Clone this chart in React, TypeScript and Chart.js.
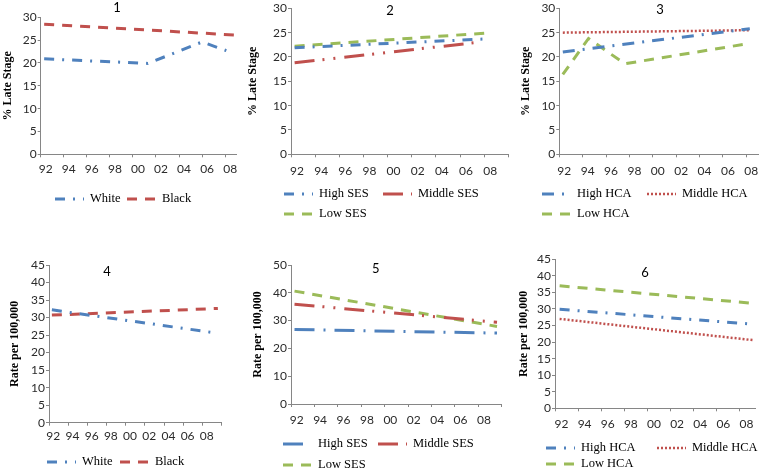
import React, { useEffect, useRef } from 'react';
import { Chart, registerables } from 'chart.js';

Chart.register(...registerables);

// ---------- data ----------
const XTICK_YEARS = [1992, 1994, 1996, 1998, 2000, 2002, 2004, 2006, 2008, 2010];
const XTICK_LABELS = ['92', '94', '96', '98', '00', '02', '04', '06', '08', ''];

// Panel 1: % late stage by race
const P1_WHITE_X = [1992.3, 2001.3, 2006.0, 2008.1];
const P1_WHITE_Y = [20.9, 19.9, 24.6, 22.7];
const P1_BLACK_X = [1992.3, 2009.0];
const P1_BLACK_Y = [28.5, 26.1];

// Panel 2: % late stage by SES
const P2_HIGH_X = [1992.3, 2008.1];
const P2_HIGH_Y = [21.9, 23.7];
const P2_MIDDLE_X = [1992.3, 2007.8];
const P2_MIDDLE_Y = [18.8, 23.1];
const P2_LOW_X = [1992.3, 2008.1];
const P2_LOW_Y = [22.2, 24.9];

// Panel 3: % late stage by HCA
const P3_HIGH_X = [1992.3, 1994.5, 2008.3];
const P3_HIGH_Y = [21.0, 21.7, 25.8];
const P3_MIDDLE_X = [1992.3, 2008.3];
const P3_MIDDLE_Y = [25.0, 25.5];
const P3_LOW_X = [1992.3, 1994.5, 1997.6, 2008.3];
const P3_LOW_Y = [16.4, 23.8, 18.6, 22.8];

// Panel 4: rate by race
const P4_WHITE_X = [1992.3, 2008.9];
const P4_WHITE_Y = [32.2, 25.8];
const P4_BLACK_X = [1992.3, 2009.6];
const P4_BLACK_Y = [30.7, 32.6];

// Panel 5: rate by SES
const P5_HIGH_X = [1992.3, 2009.6];
const P5_HIGH_Y = [26.8, 25.5];
const P5_MIDDLE_X = [1992.3, 2009.6];
const P5_MIDDLE_Y = [35.9, 29.4];
const P5_LOW_X = [1992.3, 2009.6];
const P5_LOW_Y = [40.6, 27.9];

// Panel 6: rate by HCA
const P6_HIGH_X = [1992.4, 2009.1];
const P6_HIGH_Y = [29.9, 25.4];
const P6_MIDDLE_X = [1992.4, 2009.1];
const P6_MIDDLE_Y = [27.0, 20.6];
const P6_LOW_X = [1992.4, 2009.1];
const P6_LOW_Y = [37.0, 31.7];

// ---------- styles ----------
const BLUE = '#4F81BD';
const RED = '#C0504D';
const GREEN = '#9BBB59';
const AXIS = '#868686';
const TICK_COLOR = '#2b2b2b';
const TICK_FONT = { family: 'Lato, "Open Sans", sans-serif', size: 12 };

const DASH_DOT = [10, 8, 2, 8];
const LONG_DASH_DOT = [20, 9, 2, 9];
const LONG_DASH_DOT_DOT = [20, 8, 2, 9, 2, 9];
const DASH = [10, 8];
const ROUND_DOT = [2, 2];

type Series = { label: string; xs: number[]; ys: number[]; color: string; dash: number[]; width: number };
type Panel = {
  title: string;
  titlePos: [number, number];
  yTitle: string;
  yMax: number;
  yStep: number;
  xMax: number;
  series: Series[];
  canvas: { x: number; y: number; w: number; h: number };
  plot: { l: number; t: number; r: number; b: number };
  yTitleX: number;
  labelOffset: number;
  xLabelPad: number;
  legend: [number, number][];
};

const PANELS: Panel[] = [
  {
    title: '1', titlePos: [117, 8], yTitle: '% Late Stage', yMax: 30, yStep: 5, xMax: 2009,
    series: [
      { label: 'White', xs: P1_WHITE_X, ys: P1_WHITE_Y, color: BLUE, dash: DASH_DOT, width: 3 },
      { label: 'Black', xs: P1_BLACK_X, ys: P1_BLACK_Y, color: RED, dash: DASH, width: 3 },
    ],
    canvas: { x: 0, y: 0, w: 250, h: 236 },
    plot: { l: 40.7, t: 17.3, r: 236.7, b: 154.3 },
    yTitleX: 7.5, labelOffset: 5, xLabelPad: 4.6,
    legend: [[55, 199], [127, 199]],
  },
  {
    title: '2', titlePos: [390, 10.7], yTitle: '% Late Stage', yMax: 30, yStep: 5, xMax: 2010,
    series: [
      { label: 'High SES', xs: P2_HIGH_X, ys: P2_HIGH_Y, color: BLUE, dash: DASH_DOT, width: 3 },
      { label: 'Middle SES', xs: P2_MIDDLE_X, ys: P2_MIDDLE_Y, color: RED, dash: LONG_DASH_DOT_DOT, width: 3 },
      { label: 'Low SES', xs: P2_LOW_X, ys: P2_LOW_Y, color: GREEN, dash: DASH, width: 3 },
    ],
    canvas: { x: 246, y: 0, w: 266, h: 236 },
    plot: { l: 291, t: 8.3, r: 508.3, b: 154.3 },
    yTitleX: 253.3, labelOffset: 6, xLabelPad: 6.3,
    legend: [[284, 194], [383, 194], [284, 214]],
  },
  {
    title: '3', titlePos: [660, 10], yTitle: '% Late Stage', yMax: 30, yStep: 5, xMax: 2009,
    series: [
      { label: 'High HCA', xs: P3_HIGH_X, ys: P3_HIGH_Y, color: BLUE, dash: [12, 8, 2, 8], width: 3 },
      { label: 'Middle HCA', xs: P3_MIDDLE_X, ys: P3_MIDDLE_Y, color: RED, dash: ROUND_DOT, width: 2.5 },
      { label: 'Low HCA', xs: P3_LOW_X, ys: P3_LOW_Y, color: GREEN, dash: DASH, width: 3 },
    ],
    canvas: { x: 512, y: 0, w: 254, h: 236 },
    plot: { l: 559.3, t: 8.3, r: 758, b: 154.3 },
    yTitleX: 525.8, labelOffset: 5, xLabelPad: 6.6,
    legend: [[542, 194], [647, 194], [542, 214]],
  },
  {
    title: '4', titlePos: [107, 271.7], yTitle: 'Rate per 100,000', yMax: 45, yStep: 5, xMax: 2010,
    series: [
      { label: 'White', xs: P4_WHITE_X, ys: P4_WHITE_Y, color: BLUE, dash: DASH_DOT, width: 3 },
      { label: 'Black', xs: P4_BLACK_X, ys: P4_BLACK_Y, color: RED, dash: DASH, width: 3 },
    ],
    canvas: { x: 0, y: 236, w: 250, h: 236 },
    plot: { l: 49, t: 265, r: 221.7, b: 422.7 },
    yTitleX: 15.3, labelOffset: 4.3, xLabelPad: 3.4,
    legend: [[47, 462], [120, 462]],
  },
  {
    title: '5', titlePos: [375.7, 269.3], yTitle: 'Rate per 100,000', yMax: 50, yStep: 10, xMax: 2010,
    series: [
      { label: 'High SES', xs: P5_HIGH_X, ys: P5_HIGH_Y, color: BLUE, dash: LONG_DASH_DOT, width: 3 },
      { label: 'Middle SES', xs: P5_MIDDLE_X, ys: P5_MIDDLE_Y, color: RED, dash: LONG_DASH_DOT_DOT, width: 3 },
      { label: 'Low SES', xs: P5_LOW_X, ys: P5_LOW_Y, color: GREEN, dash: DASH, width: 3 },
    ],
    canvas: { x: 248, y: 236, w: 264, h: 236 },
    plot: { l: 291, t: 265, r: 501.7, b: 404 },
    yTitleX: 258, labelOffset: 5.7, xLabelPad: 6,
    legend: [[283, 444], [378, 444], [283, 465]],
  },
  {
    title: '6', titlePos: [645, 272.7], yTitle: 'Rate per 100,000', yMax: 45, yStep: 5, xMax: 2009.3,
    series: [
      { label: 'High HCA', xs: P6_HIGH_X, ys: P6_HIGH_Y, color: BLUE, dash: DASH_DOT, width: 3 },
      { label: 'Middle HCA', xs: P6_MIDDLE_X, ys: P6_MIDDLE_Y, color: RED, dash: ROUND_DOT, width: 2.5 },
      { label: 'Low HCA', xs: P6_LOW_X, ys: P6_LOW_Y, color: GREEN, dash: DASH, width: 3 },
    ],
    canvas: { x: 512, y: 236, w: 254, h: 236 },
    plot: { l: 555, t: 259.3, r: 755, b: 408.3 },
    yTitleX: 523.8, labelOffset: 6.5, xLabelPad: 5.4,
    legend: [[546, 448], [657, 448], [546, 464]],
  },
];

const X_AXIS_H = 26;
const TITLE_HALF_LINE = 7.2; // 12px * 1.2 / 2
const LEGEND_SAMPLE = 29;
const LEGEND_TEXT_GAP = 35;

function makeDecor(p: Panel) {
  return {
    id: 'decor' + p.title,
    afterDraw(chart: any) {
      const ctx: CanvasRenderingContext2D = chart.ctx;
      const ox = p.canvas.x;
      const oy = p.canvas.y;
      ctx.save();
      ctx.font = '13px Lato, "Open Sans", sans-serif';
      ctx.fillStyle = '#000';
      ctx.textAlign = 'center';
      ctx.textBaseline = 'middle';
      ctx.fillText(p.title, p.titlePos[0] - ox, p.titlePos[1] - oy);
      p.series.forEach((s, i) => {
        const [lx, ly] = p.legend[i];
        ctx.beginPath();
        ctx.setLineDash(s.dash);
        ctx.lineDashOffset = 0;
        ctx.lineWidth = s.width;
        ctx.strokeStyle = s.color;
        ctx.lineCap = 'butt';
        ctx.moveTo(lx - ox, ly - oy);
        ctx.lineTo(lx - ox + LEGEND_SAMPLE, ly - oy);
        ctx.stroke();
        ctx.setLineDash([]);
        ctx.font = '12.5px "Liberation Serif", "Times New Roman", serif';
        ctx.textAlign = 'left';
        ctx.textBaseline = 'middle';
        ctx.fillStyle = '#000';
        ctx.fillText(s.label, lx - ox + LEGEND_TEXT_GAP, ly - oy);
      });
      ctx.restore();
    },
  };
}

function PanelChart({ p }: { p: Panel }) {
  const ref = useRef<HTMLCanvasElement | null>(null);
  useEffect(() => {
    if (!ref.current) return;
    const padLeft = p.yTitleX - TITLE_HALF_LINE - p.canvas.x;
    const yAxisW = p.plot.l - p.canvas.x - padLeft;
    const padTop = p.plot.t - p.canvas.y;
    const padRight = p.canvas.x + p.canvas.w - p.plot.r;
    const padBottom = p.canvas.y + p.canvas.h - p.plot.b - X_AXIS_H;
    const tickYears = XTICK_YEARS.filter((v) => v <= p.xMax);

    const chart = new Chart(ref.current, {
      type: 'line',
      data: {
        datasets: p.series.map((s) => ({
          label: s.label,
          data: s.xs.map((x, i) => ({ x, y: s.ys[i] })),
          borderColor: s.color,
          backgroundColor: s.color,
          borderWidth: s.width,
          borderDash: s.dash,
          borderCapStyle: 'butt',
          pointRadius: 0,
          tension: 0,
          fill: false,
        })),
      },
      options: {
        responsive: false,
        animation: false,
        events: [],
        layout: { padding: { left: padLeft, top: padTop, right: padRight, bottom: padBottom } },
        plugins: {
          legend: { display: false },
          title: { display: false },
          tooltip: { enabled: false },
        },
        scales: {
          x: {
            type: 'linear',
            min: 1992,
            max: p.xMax,
            afterBuildTicks: (scale: any) => {
              scale.ticks = tickYears.map((v) => ({ value: v }));
            },
            afterFit: (scale: any) => {
              scale.height = X_AXIS_H;
              scale.paddingLeft = 0;
              scale.paddingRight = 0;
            },
            ticks: {
              autoSkip: false,
              maxRotation: 0,
              minRotation: 0,
              labelOffset: p.labelOffset,
              padding: p.xLabelPad,
              font: TICK_FONT,
              color: TICK_COLOR,
              callback: (v: any) => {
                const idx = XTICK_YEARS.indexOf(Number(v));
                return idx >= 0 ? XTICK_LABELS[idx] : '';
              },
            },
            grid: { drawOnChartArea: false, drawTicks: true, tickLength: 3, color: AXIS, lineWidth: 1 },
            border: { display: true, color: AXIS, width: 1 },
          },
          y: {
            type: 'linear',
            min: 0,
            max: p.yMax,
            afterFit: (scale: any) => {
              scale.width = yAxisW;
              scale.paddingTop = 0;
              scale.paddingBottom = 0;
            },
            ticks: { stepSize: p.yStep, autoSkip: false, padding: 1, font: TICK_FONT, color: TICK_COLOR },
            title: {
              display: true,
              text: p.yTitle,
              color: '#000',
              padding: 0,
              font: { family: '"Liberation Serif", "Times New Roman", serif', size: 12, weight: 'bold' },
            },
            grid: { drawOnChartArea: false, drawTicks: true, tickLength: 3, color: AXIS, lineWidth: 1 },
            border: { display: true, color: AXIS, width: 1 },
          },
        },
      } as any,
      plugins: [makeDecor(p)],
    });
    return () => chart.destroy();
  }, [p]);

  return (
    <canvas
      ref={ref}
      width={p.canvas.w}
      height={p.canvas.h}
      style={{
        position: 'absolute',
        left: p.canvas.x,
        top: p.canvas.y,
        width: p.canvas.w,
        height: p.canvas.h,
      }}
    />
  );
}

export default function App() {
  return (
    <div
      style={{
        position: 'fixed',
        left: 0,
        top: 0,
        width: 766,
        height: 472,
        background: '#ffffff',
        overflow: 'hidden',
      }}
    >
      {PANELS.map((p) => (
        <PanelChart key={p.title} p={p} />
      ))}
    </div>
  );
}
